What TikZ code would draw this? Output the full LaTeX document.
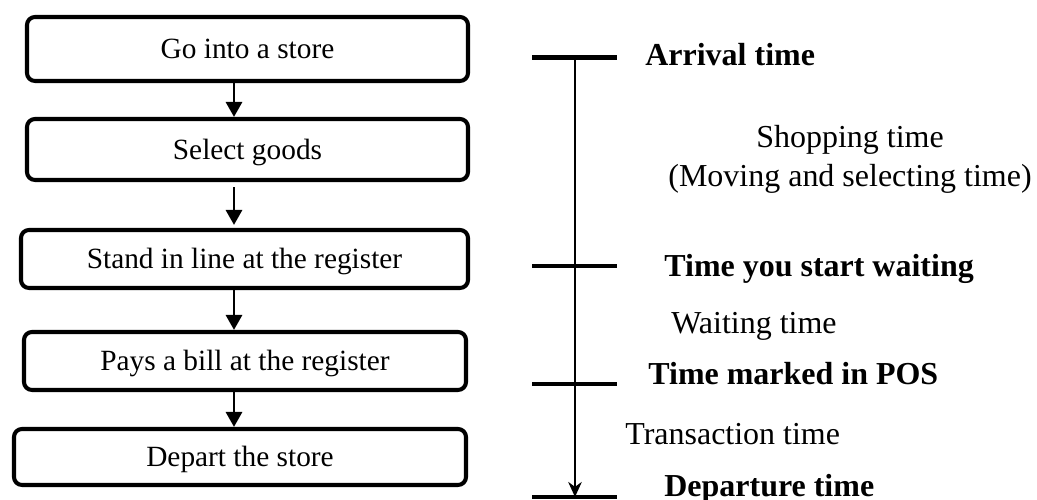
\documentclass[tikz,border=0pt]{standalone}
\usepackage{fontspec}
\setmainfont{Liberation Serif}
\usetikzlibrary{arrows.meta}

\begin{document}
\begin{tikzpicture}[
    stepbox/.style={draw, line width=2.3pt, rounded corners=0.16cm, inner sep=0pt,
        minimum width=8.82cm, minimum height=1.16cm, text height=11pt, text depth=0pt,
        font=\fontsize{16.7}{20}\selectfont},
    flow/.style={-{Triangle[length=0.3cm,width=0.32cm]}, line width=1.7pt},
    tick/.style={line width=1.8pt},
    timelabel/.style={anchor=base west, inner sep=0pt, font=\fontsize{18.2}{22}\selectfont\bfseries},
    spanlabel/.style={anchor=base west, inner sep=0pt, font=\fontsize{18.2}{22}\selectfont}
]
    % Page frame
    \useasboundingbox (0,0) rectangle (20.74,10);

    % Steps of a visit
    \node[stepbox, minimum height=1.28cm] (store) at (4.95,9.02) {Go into a store};
    \node[stepbox, minimum height=1.22cm] (goods) at (4.95,7.01) {Select goods};
    \node[stepbox, minimum width=8.94cm] (queue) at (4.89,4.82) {Stand in line at the register};
    \node[stepbox, minimum width=8.84cm] (pay) at (4.90,2.78) {Pays a bill at the register};
    \node[stepbox, minimum width=9.04cm, minimum height=1.12cm] (depart) at (4.80,0.86) {Depart the store};

    % Arrows between the steps
    \coordinate (ax) at (4.68,0);
    \draw[flow] (store.south -| ax) -- (goods.north -| ax);
    \draw[flow, shorten <=0.1cm, shorten >=0.06cm] (goods.south -| ax) -- (queue.north -| ax);
    \draw[flow] (queue.south -| ax) -- (pay.north -| ax);
    \draw[flow] (pay.south -| ax) -- (depart.north -| ax);

    % Time line
    \coordinate (t1) at (11.5,8.85);
    \coordinate (t2) at (11.5,4.68);
    \coordinate (t3) at (11.5,2.32);
    \coordinate (t4) at (11.5,0.06);
    \draw[line width=1.3pt, -{Stealth[length=0.3cm,width=0.27cm]}] (t1) -- (t4);
    \draw[tick, line width=3.2pt] ([xshift=-0.86cm]t1) -- ([xshift=0.84cm]t1);
    \foreach \t in {t2,t3,t4}
        \draw[tick] ([xshift=-0.86cm]\t) -- ([xshift=0.84cm]\t);

    % Labels of the time line
    \node[timelabel] (arrive) at (12.9,8.68) {Arrival time};
    \node[align=center, font=\fontsize{18.2}{22.2}\selectfont] (shopping) at (17.0,6.81)
        {Shopping time\\(Moving and selecting time)};
    \node[timelabel] (startwait) at (13.28,4.46) {Time you start waiting};
    \node[spanlabel] (waiting) at (13.42,3.32) {Waiting time};
    \node[timelabel] (pos) at (12.96,2.30) {Time marked in POS};
    \node[spanlabel] (transact) at (12.5,1.10) {Transaction time};
    \node[timelabel] (leave) at (13.28,0.06) {Departure time};
\end{tikzpicture}
\end{document}
